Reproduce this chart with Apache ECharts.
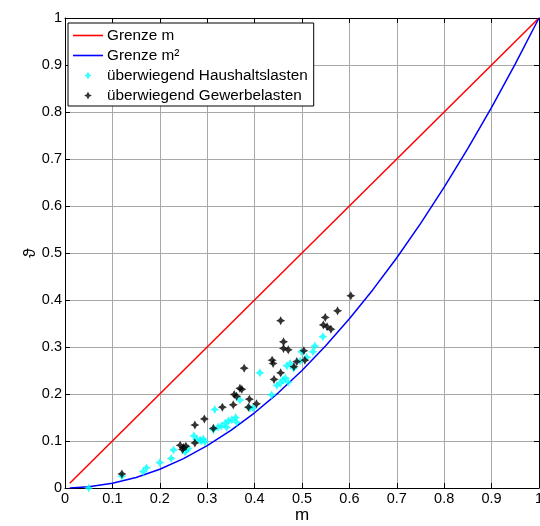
<!DOCTYPE html>
<html><head><meta charset="utf-8">
<script src="https://cdn.jsdelivr.net/npm/echarts@6/dist/echarts.min.js"></script>
<style>html,body{margin:0;padding:0;background:#fff}#c{width:540px;height:526px}</style>
</head><body><div id="c"></div>
<script>
const axisTicks = ['0','0.1','0.2','0.3','0.4','0.5','0.6','0.7','0.8','0.9','1'];
const limitLinear = [[0.01,0.01],[1,1]];
const limitQuadX = [0.01,0.05,0.1,0.15,0.2,0.25,0.3,0.35,0.4,0.45,0.5,0.55,0.6,0.65,0.7,0.75,0.8,0.85,0.9,0.95,1.0];
const limitQuadY = [0.0001,0.0025,0.01,0.0225,0.04,0.0625,0.09,0.1225,0.16,0.2025,0.25,0.3025,0.36,0.4225,0.49,0.5625,0.64,0.7225,0.81,0.9025,1.0];
const haushalt = [[0.05,0.0],[0.12,0.025],[0.165,0.035],[0.172,0.043],[0.2,0.054],[0.224,0.063],[0.229,0.081],[0.253,0.077],[0.26,0.084],[0.256,0.08],[0.272,0.111],[0.278,0.103],[0.285,0.102],[0.288,0.1],[0.292,0.104],[0.295,0.098],[0.316,0.167],[0.313,0.124],[0.323,0.13],[0.33,0.132],[0.338,0.138],[0.341,0.129],[0.345,0.143],[0.352,0.145],[0.36,0.15],[0.362,0.14],[0.369,0.187],[0.39,0.17],[0.397,0.17],[0.411,0.245],[0.436,0.198],[0.447,0.218],[0.454,0.223],[0.46,0.23],[0.465,0.234],[0.471,0.225],[0.468,0.26],[0.475,0.265],[0.482,0.255],[0.496,0.27],[0.499,0.29],[0.51,0.278],[0.523,0.29],[0.527,0.302],[0.544,0.322]];
const gewerbe = [[0.12,0.03],[0.243,0.091],[0.248,0.082],[0.255,0.089],[0.25,0.086],[0.274,0.096],[0.274,0.134],[0.294,0.147],[0.313,0.127],[0.332,0.172],[0.355,0.177],[0.357,0.199],[0.362,0.195],[0.369,0.212],[0.373,0.21],[0.387,0.172],[0.389,0.189],[0.404,0.179],[0.378,0.255],[0.439,0.265],[0.437,0.272],[0.441,0.231],[0.455,0.245],[0.455,0.356],[0.461,0.311],[0.461,0.297],[0.471,0.294],[0.483,0.258],[0.489,0.269],[0.506,0.272],[0.504,0.292],[0.545,0.347],[0.553,0.343],[0.561,0.338],[0.549,0.363],[0.575,0.377],[0.603,0.409]];

const star = 'path://M0,-1L0.35,-0.35L1,0L0.35,0.35L0,1L-0.35,0.35L-1,0L-0.35,-0.35Z';
const starLegend = 'path://M-1.8,-0.9M1.8,0.9M0,-0.5L0.17,-0.17L0.5,0L0.17,0.17L0,0.5L-0.17,0.17L-0.5,0L-0.17,-0.17Z';
const lineIcon = 'path://M0,0H28V1.5H0Z';
const font = 'Liberation Sans, Arial, sans-serif';
const quad = limitQuadX.map((x,i)=>[x,limitQuadY[i]]);
const baseAxis = {
  type:'value', min:0, max:1, interval:0.1,
  axisLine:{show:true, onZero:false, lineStyle:{color:'#000', width:1}},
  axisTick:{show:true, inside:true, length:5, lineStyle:{color:'#000'}},
};
const gridColor = '#a8a8a8';
const chart = echarts.init(document.getElementById('c'));
chart.setOption({
  animation:false,
  backgroundColor:'#fff',
  grid:{left:65, right:1, top:18, bottom:38, outerBoundsMode:'none', containLabel:false},
  legend:{
    orient:'vertical', left:68, top:23, itemWidth:30, itemHeight:14, itemGap:5,
    padding:[5,6,3,5], borderColor:'#000', borderWidth:1, backgroundColor:'#fff',
    textStyle:{fontFamily:font, fontSize:15.3, color:'#000', padding:[0,0,0,-1]},
    data:[
      {name:'Grenze m', icon:lineIcon},
      {name:'Grenze m²', icon:lineIcon},
      {name:'überwiegend Haushaltslasten', icon:starLegend},
      {name:'überwiegend Gewerbelasten', icon:starLegend}
    ]
  },
  xAxis:[
    Object.assign({}, baseAxis, {position:'bottom', name:'m', nameLocation:'middle', nameGap:19, nameMoveOverlap:false,
      nameTextStyle:{fontFamily:font, fontSize:17, color:'#000'},
      axisLabel:{fontFamily:font, fontSize:14.5, color:'#000', margin:3, formatter:(v)=>axisTicks[Math.round(v*10)]},
      splitLine:{show:true, lineStyle:{color:gridColor, width:1}}}),
    Object.assign({}, baseAxis, {position:'top', axisLabel:{show:false}, splitLine:{show:false}})
  ],
  yAxis:[
    Object.assign({}, baseAxis, {position:'left', name:'ϑ', nameLocation:'middle', nameGap:26, nameRotate:90, nameMoveOverlap:false,
      nameTextStyle:{fontFamily:font, fontSize:17, color:'#000'},
      axisLabel:{fontFamily:font, fontSize:14.5, color:'#000', margin:3, formatter:(v)=>axisTicks[Math.round(v*10)]},
      splitLine:{show:true, lineStyle:{color:gridColor, width:1}}}),
    Object.assign({}, baseAxis, {position:'right', axisLabel:{show:false}, splitLine:{show:false}})
  ],
  series:[
    {name:'Grenze m', type:'line', data:limitLinear, symbol:'none', lineStyle:{color:'#ff0000', width:1.5}, itemStyle:{color:'#ff0000'}, z:3},
    {name:'Grenze m²', type:'line', data:quad, symbol:'none', lineStyle:{color:'#0000ff', width:1.5}, itemStyle:{color:'#0000ff'}, z:3},
    {name:'überwiegend Haushaltslasten', type:'scatter', data:haushalt, symbol:star, symbolSize:9, itemStyle:{color:'#00ffff'}, z:4},
    {name:'überwiegend Gewerbelasten', type:'scatter', data:gewerbe, symbol:star, symbolSize:9, itemStyle:{color:'#000'}, z:5}
  ]
});
</script></body></html>
